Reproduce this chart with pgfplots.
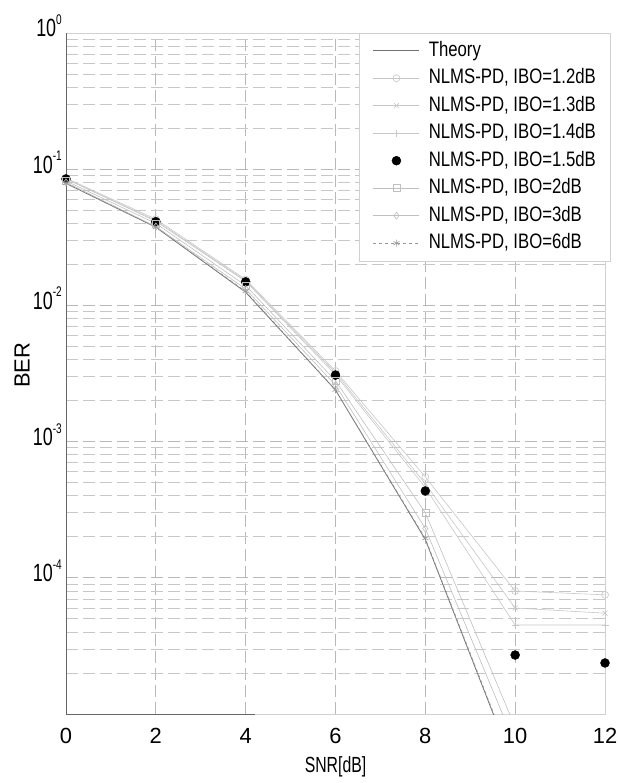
\documentclass[border=0pt]{standalone}
\usepackage{pgfplots}
\pgfplotsset{compat=1.18}
\usepackage{fontspec}
\setmainfont{Liberation Sans}
\newfontfamily\narrowfont{Liberation Sans}[FakeStretch=0.8]
\newfontfamily\condfont{Liberation Sans}[FakeStretch=0.72]
\newcommand{\ytl}[1]{10\raisebox{0.5em}{\fontsize{14}{14}\selectfont #1}}
\pgfplotsset{mylegimg/.style={legend image code/.code={\draw[mark repeat=2,mark phase=2,##1] plot coordinates {(0bp,0bp) (23bp,0bp) (46bp,0bp)};}}}
\begin{document}
\begin{tikzpicture}
\useasboundingbox (-66bp,-69bp) rectangle (552bp,714bp);
\begin{axis}[
  at={(0,0)}, anchor=south west,
  scale only axis, width=539bp, height=681bp,
  xmin=0, xmax=12, ymin=1e-5, ymax=1, ymode=log,
  xtick={0,2,4,6,8,10,12},
  xticklabels={0,2,4,6,8,10,12},
  ytick={1e-5,1e-4,1e-3,1e-2,1e-1,1},
  yticklabels={,\ytl{-4},\ytl{-3},\ytl{-2},\ytl{-1},\ytl{0}},
  xmajorgrids, ymajorgrids, yminorgrids,
  major grid style={dash pattern=on 12bp off 5bp, black!28, line width=0.7bp},
  minor grid style={dash pattern=on 12bp off 5bp, black!22, line width=0.7bp},
  axis line style={black!18, line width=0.8bp},
  major tick length=0pt, minor tick length=0pt,
  xticklabel style={font=\fontsize{22}{22}\selectfont, anchor=center, yshift=-22bp},
  yticklabel style={font=\condfont\fontsize{25}{25}\selectfont, anchor=east, inner sep=1bp, xshift=-3bp, yshift=7bp},
  xlabel={SNR[dB]},
  ylabel={BER},
  every axis x label/.style={at={(rel axis cs:0.5,0)}, anchor=center, yshift=-53bp, font=\condfont\fontsize{22}{22}\selectfont},
  every axis y label/.style={at={(rel axis cs:0,0.512)}, xshift=-44bp, anchor=center, rotate=90, font=\fontsize{22}{22}\selectfont},
  mylegimg,
  legend style={at={(rel axis cs:1,1)}, anchor=north east, xshift=5bp,
    draw=black!18, fill=white, inner xsep=14bp, inner ysep=8bp,
    font=\narrowfont\fontsize{21}{21}\selectfont,
    row sep=8.5bp, column sep=9bp, cells={anchor=west},
    nodes={inner sep=0pt, text height=15bp, text depth=4bp}},
]
\draw[black!60, line width=0.8bp] (rel axis cs:0,1) -- (rel axis cs:0,0) -- (rel axis cs:0.35,0);
\addplot[black!55, line width=0.8bp] coordinates {
  (0,0.0786) (2,0.0375) (4,0.0125) (6,0.00239) (8,1.91e-4) (10,3.87e-6)};
\addlegendentry{Theory}
\addplot[black!22, line width=0.6bp, mark=o, mark size=3.5bp] coordinates {
  (0,0.086) (2,0.043) (4,0.0155) (6,0.0033) (8,5.5e-4) (10,8.0e-5) (12,7.5e-5)};
\addlegendentry{NLMS-PD, IBO=1.2dB}
\addplot[black!22, line width=0.6bp, mark=x, mark size=3.5bp] coordinates {
  (0,0.085) (2,0.042) (4,0.0152) (6,0.0032) (8,4.9e-4) (10,6.0e-5) (12,5.5e-5)};
\addlegendentry{NLMS-PD, IBO=1.3dB}
\addplot[black!22, line width=0.6bp, mark=+, mark size=3.5bp] coordinates {
  (0,0.085) (2,0.0415) (4,0.015) (6,0.0031) (8,4.6e-4) (10,4.5e-5) (12,4.5e-5)};
\addlegendentry{NLMS-PD, IBO=1.4dB}
\addplot[black, only marks, mark=*, mark size=4.5bp, mylegimg] coordinates {
  (0,0.0848) (2,0.0412) (4,0.0149) (6,0.00308) (8,4.34e-4) (10,2.71e-5) (12,2.37e-5)};
\addlegendentry{NLMS-PD, IBO=1.5dB}
\addplot[black!25, line width=0.6bp, mark=square, mark size=3.5bp] coordinates {
  (0,0.082) (2,0.040) (4,0.0140) (6,0.0028) (8,3.0e-4) (10,8e-6)};
\addlegendentry{NLMS-PD, IBO=2dB}
\addplot[black!25, line width=0.6bp, mark=diamond, mark size=3.5bp] coordinates {
  (0,0.080) (2,0.038) (4,0.0132) (6,0.0026) (8,2.3e-4) (10,6e-6)};
\addlegendentry{NLMS-PD, IBO=3dB}
\addplot[black!40, line width=0.6bp, dashed, mark=asterisk, mark size=3.5bp, mark options={solid}] coordinates {
  (0,0.079) (2,0.0376) (4,0.0127) (6,0.0024) (8,1.95e-4) (10,4e-6)};
\addlegendentry{NLMS-PD, IBO=6dB}
\end{axis}
\end{tikzpicture}
\end{document}
